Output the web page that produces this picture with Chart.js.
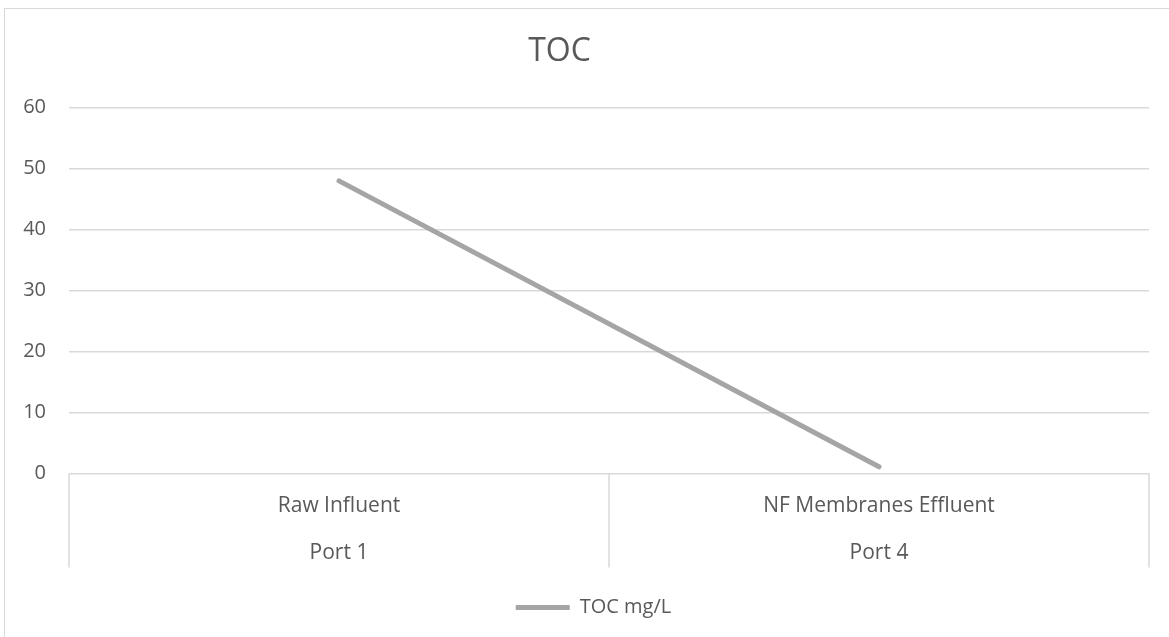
<!DOCTYPE html>
<html>
<head>
<meta charset="utf-8">
<script src="https://cdn.jsdelivr.net/npm/chart.js@4"></script>
<style>
  html, body { margin: 0; padding: 0; background: #fff; }
  #wrap { position: relative; width: 1169px; height: 637px; overflow: hidden; }
  #frame { position: absolute; left: 4px; top: 8px; width: 1300px; height: 800px; border: 1.5px solid #d9d9d9; }
  #tocChart { position: absolute; left: 0; top: 0; }
</style>
</head>
<body>
<div id="wrap">
  <div id="frame"></div>
  <canvas id="tocChart" width="1169" height="637"></canvas>
</div>
<script>
// values
const categories = [["Raw Influent", "Port 1"], ["NF Membranes Effluent", "Port 4"]];
const tocValues = [48, 1.1];
const yTicks = [0, 10, 20, 30, 40, 50, 60];

const textColor = "#595959";
const gridColor = "#d9d9d9";
const fontFamily = "'Open Sans', sans-serif";

// vertical separators below the x axis, at the category edges
const categoryDividers = {
    id: "categoryDividers",
    afterDraw(chart) {
        const xs = chart.scales.x;
        const c = chart.ctx;
        c.save();
        c.strokeStyle = gridColor;
        c.lineWidth = 1.5;
        for (let i = 0; i <= categories.length; i++) {
            const px = xs.getPixelForValue(i - 0.5);
            c.beginPath();
            c.moveTo(px, xs.top);
            c.lineTo(px, xs.top + 94);
            c.stroke();
        }
        c.restore();
    }
};

// Excel puts title and legend slightly off the centre
const nudgeBoxes = {
    id: "nudgeBoxes",
    afterLayout(chart) {
        chart.titleBlock.left -= 15;
        chart.titleBlock.right -= 15;
        chart.legend.left += 19;
        chart.legend.right += 19;
    }
};

let ctx = document.getElementById("tocChart").getContext("2d");

let chart = new Chart(ctx, {
    type: "line",
    data: {
        labels: categories,
        datasets: [
            {
                label: "TOC mg/L",
                data: tocValues,
                borderColor: "#a5a5a5",
                backgroundColor: "#a5a5a5",
                borderWidth: 5,
                borderCapStyle: "round",
                pointRadius: 0,
                tension: 0
            }
        ]
    },
    options: {
        responsive: false,
        animation: false,
        devicePixelRatio: 1,
        layout: { padding: { left: 0, right: 20, top: 0, bottom: 9.5 } },
        scales: {
            x: {
                offset: true,
                afterFit: scale => { scale.height = 114; },
                border: { display: false },
                grid: { offset: true, drawOnChartArea: false, drawTicks: false },
                ticks: {
                    color: textColor,
                    padding: 9.5,
                    maxRotation: 0,
                    autoSkip: false,
                    font: { family: fontFamily, size: 21, lineHeight: 2.238 }
                }
            },
            y: {
                min: 0,
                max: 60,
                afterBuildTicks: scale => { scale.ticks = yTicks.map(v => ({ value: v })); },
                afterFit: scale => { scale.width = 69; },
                border: { display: false },
                grid: { color: gridColor, lineWidth: 1.5, drawTicks: false },
                ticks: {
                    color: textColor,
                    padding: 23,
                    font: { family: fontFamily, size: 20 }
                }
            }
        },
        plugins: {
            title: {
                display: true,
                text: "TOC",
                color: textColor,
                font: { family: fontFamily, size: 32, weight: "normal", lineHeight: 1.2 },
                padding: { top: 32.3, bottom: 37 }
            },
            legend: {
                position: "bottom",
                labels: {
                    color: textColor,
                    usePointStyle: true,
                    pointStyle: "line",
                    pointStyleWidth: 54,
                    boxHeight: 20,
                    padding: 10,
                    font: { family: fontFamily, size: 20 }
                }
            },
            tooltip: { enabled: false }
        }
    },
    plugins: [categoryDividers, nudgeBoxes]
});
</script>
</body>
</html>
